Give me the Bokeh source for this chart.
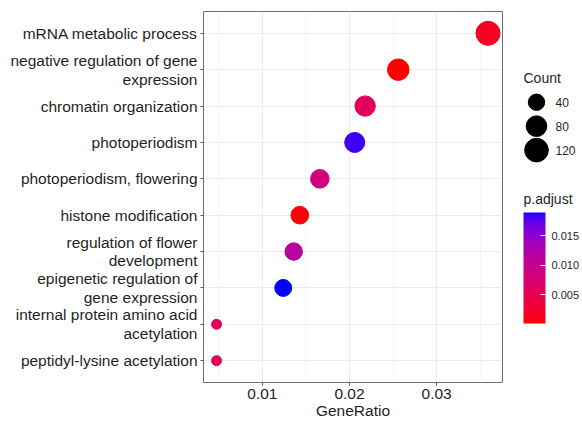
import numpy as np
from bokeh.plotting import figure
from bokeh.models import (Range1d, FixedTicker, PrintfTickFormatter,
                          LinearColorMapper, ColorBar, ColumnDataSource)
from bokeh.layouts import row
from bokeh.transform import transform
from bokeh.core.properties import value
from bokeh.embed import file_html
from bokeh.resources import INLINE

# ---------------- data ----------------
terms = [
    "mRNA metabolic process",
    "negative regulation of gene\nexpression",
    "chromatin organization",
    "photoperiodism",
    "photoperiodism, flowering",
    "histone modification",
    "regulation of flower\ndevelopment",
    "epigenetic regulation of\ngene expression",
    "internal protein amino acid\nacetylation",
    "peptidyl-lysine acetylation",
]
gene_ratio = [0.0359, 0.0256, 0.0218, 0.0206, 0.0166, 0.0143, 0.0136, 0.0124, 0.00475, 0.00475]
counts = [126, 90, 77, 73, 58, 50, 48, 44, 17, 17]
p_adjust = [0.0016, 0.0001, 0.0057, 0.0183, 0.0086, 0.0004, 0.0114, 0.0189, 0.0054, 0.0054]

count_legend = [40, 80, 120]
x_ticks = [0.01, 0.02, 0.03]
x_minor = [0.005, 0.015, 0.025, 0.035]
padj_ticks = [0.005, 0.010, 0.015]

FONT = "Liberation Sans"
TXT = "#1f1f1f"

# ---------------- colour scale (Lab interpolation red -> blue) ----------------
M = np.array([[0.4124564, 0.3575761, 0.1804375],
              [0.2126729, 0.7151522, 0.0721750],
              [0.0193339, 0.1191920, 0.9503041]])
WHITE = np.array([0.95047, 1.0, 1.08883])


def srgb_to_lab(rgb):
    c = np.array(rgb, dtype=float) / 255
    lin = np.where(c <= 0.04045, c / 12.92, ((c + 0.055) / 1.055) ** 2.4)
    r = (M @ lin) / WHITE
    f = np.where(r > (6 / 29) ** 3, np.cbrt(r), r / (3 * (6 / 29) ** 2) + 4 / 29)
    return np.array([116 * f[1] - 16, 500 * (f[0] - f[1]), 200 * (f[1] - f[2])])


def lab_to_hex(lab):
    L, a, b = lab
    fy = (L + 16) / 116
    f = np.array([fy + a / 500, fy, fy - b / 200])
    r = np.where(f > 6 / 29, f ** 3, 3 * (6 / 29) ** 2 * (f - 4 / 29))
    lin = np.clip(np.linalg.inv(M) @ (r * WHITE), 0, 1)
    c = np.where(lin <= 0.0031308, 12.92 * lin, 1.055 * lin ** (1 / 2.4) - 0.055)
    return "#%02x%02x%02x" % tuple(int(round(v * 255)) for v in np.clip(c, 0, 1))


lab_lo = srgb_to_lab((255, 0, 0))
lab_hi = srgb_to_lab((0, 0, 255))
palette = [lab_to_hex(lab_lo + (lab_hi - lab_lo) * t) for t in np.linspace(0, 1, 256)]
mapper = LinearColorMapper(palette=palette, low=min(p_adjust), high=max(p_adjust))

cmin, cmax = min(counts), max(counts)


def dot_size(c):
    return 10 + 14 * np.sqrt(max(c - cmin, 0) / (cmax - cmin))


n = len(terms)
ypos = [n - i for i in range(n)]
src = ColumnDataSource(dict(x=gene_ratio, y=ypos, padj=p_adjust,
                            size=[dot_size(c) for c in counts]))

# ---------------- main plot ----------------
W_MAIN, H = 504, 421
FRAME_TOP, FRAME_BOTTOM = 11, 383
p = figure(width=W_MAIN, height=H, output_backend="svg", toolbar_location=None,
           x_range=Range1d(0.00325, 0.03756), y_range=Range1d(0.4, n + 0.6),
           min_border_left=203, min_border_right=2, min_border_top=FRAME_TOP,
           min_border_bottom=0)
p.background_fill_color = "white"
p.border_fill_color = "white"
p.outline_line_color = "#6e6e6e"
p.outline_line_width = 1

p.scatter("x", "y", size="size", source=src,
          fill_color=transform("padj", mapper), line_color=transform("padj", mapper))

p.xaxis.ticker = FixedTicker(ticks=x_ticks, minor_ticks=x_minor)
p.xaxis.formatter = PrintfTickFormatter(format="%.2f")
p.yaxis.ticker = FixedTicker(ticks=ypos)
p.yaxis.major_label_overrides = {y: t for y, t in zip(ypos, terms)}

for ax in (p.xaxis[0], p.yaxis[0]):
    ax.axis_line_color = None
    ax.major_tick_line_color = "#555555"
    ax.major_tick_out = 3
    ax.major_tick_in = 0
    ax.minor_tick_line_color = None
    ax.major_label_text_font = FONT
    ax.major_label_text_font_size = "15.5px"
    ax.major_label_text_color = TXT
    ax.major_label_text_line_height = 1.1

p.yaxis.major_label_standoff = 3
p.xaxis.major_label_standoff = 2
p.xaxis.axis_label = "GeneRatio"
p.xaxis.axis_label_text_font = FONT
p.xaxis.axis_label_text_font_size = "15.5px"
p.xaxis.axis_label_text_font_style = "normal"
p.xaxis.axis_label_text_color = TXT
p.xaxis.axis_label_standoff = 0

p.xgrid.grid_line_color = "#ebebeb"
p.xgrid.grid_line_width = 1.2
p.xgrid.minor_grid_line_color = "#f2f2f2"
p.xgrid.minor_grid_line_width = 0.8
p.ygrid.grid_line_color = "#ebebeb"
p.ygrid.grid_line_width = 1.2

# ---------------- legend panel ----------------
# the row layout aligns this panel's frame with the main frame, so the
# y range is chosen so that one data unit is one pixel (y = H - page y)
W_LEG = 582 - W_MAIN
lg = figure(width=W_LEG, height=H, output_backend="svg", toolbar_location=None,
            x_range=Range1d(0, W_LEG), y_range=Range1d(H - FRAME_BOTTOM, H - FRAME_TOP),
            min_border=0)
lg.axis.visible = False
lg.grid.visible = False
lg.outline_line_color = None
lg.background_fill_color = "white"
lg.border_fill_color = "white"

leg_x = 19
leg_top = H - 78
lg.text(x=[leg_x], y=[leg_top], text=["Count"], text_font=value(FONT),
        text_font_size=value("14px"), text_baseline="middle", text_color=TXT)
leg_y = [leg_top - 24 * (i + 1) for i in range(len(count_legend))]
lg.scatter(x=[leg_x + 13] * len(count_legend), y=leg_y,
           size=[dot_size(c) for c in count_legend], color="black")
lg.text(x=[leg_x + 32] * len(count_legend), y=leg_y, text=[str(c) for c in count_legend],
        text_font=value(FONT), text_font_size=value("12px"),
        text_baseline="middle", text_color=TXT)

bar_h = 111
lg.text(x=[leg_x], y=[H - 199], text=["p.adjust"], text_font=value(FONT),
        text_font_size=value("14px"), text_baseline="middle", text_color=TXT)

cb = ColorBar(color_mapper=mapper, ticker=FixedTicker(ticks=padj_ticks),
              formatter=PrintfTickFormatter(format="%.3f"),
              width=22, height=bar_h, location=(leg_x, FRAME_BOTTOM - 324), padding=0,
              orientation="vertical", title=None,
              major_label_text_font=FONT, major_label_text_font_size="11px",
              major_label_text_color=TXT, label_standoff=6,
              major_tick_in=5, major_tick_out=0, major_tick_line_color="white",
              minor_tick_line_color=None, bar_line_color=None,
              background_fill_color=None, border_line_color=None)
lg.add_layout(cb, "center")

layout = row(p, lg)
open("out.html", "w").write(file_html(layout, INLINE))
